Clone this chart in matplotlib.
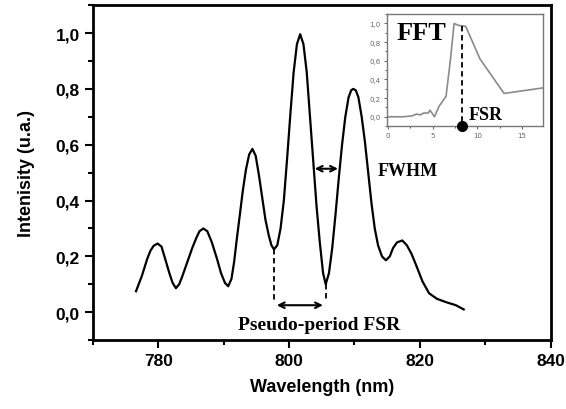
import numpy as np
import matplotlib.pyplot as plt
from matplotlib.ticker import MultipleLocator, FuncFormatter

# Spectrum
wavelength = [776.6, 777.5, 778.3, 778.8, 779.3, 779.9, 780.5, 781.2, 781.7, 782.2,
              782.7, 783.2, 783.7, 784.3, 785.2, 785.8, 786.3, 786.9, 787.5, 788.2,
              789.0, 789.6, 790.2, 790.7, 791.2, 791.6, 792.0, 792.4, 792.9, 793.4,
              793.9, 794.4, 794.9, 795.4, 795.9, 796.4, 796.9, 797.3, 797.7, 798.2,
              798.7, 799.2, 799.7, 800.2, 800.7, 801.2, 801.7, 802.2, 802.7, 803.2,
              803.7, 804.2, 804.7, 805.2, 805.6, 806.1, 806.6, 807.1, 807.6, 808.1,
              808.6, 809.1, 809.5, 809.8, 810.2, 810.6, 811.1, 811.6, 812.1, 812.6,
              813.1, 813.6, 814.2, 814.8, 815.4, 815.9, 816.5, 817.3, 818.0, 818.7,
              819.4, 820.4, 821.4, 822.6, 824.0, 825.5, 826.7]
intensity = [0.075, 0.13, 0.19, 0.22, 0.238, 0.246, 0.235, 0.18, 0.14, 0.105,
             0.086, 0.10, 0.13, 0.17, 0.23, 0.265, 0.29, 0.30, 0.29, 0.25,
             0.19, 0.14, 0.105, 0.093, 0.12, 0.18, 0.26, 0.335, 0.43, 0.51,
             0.565, 0.585, 0.56, 0.49, 0.41, 0.33, 0.275, 0.24, 0.225, 0.24,
             0.30, 0.40, 0.55, 0.71, 0.86, 0.96, 0.996, 0.96, 0.86, 0.70,
             0.54, 0.38, 0.25, 0.14, 0.10, 0.14, 0.23, 0.35, 0.48, 0.60,
             0.70, 0.77, 0.795, 0.80, 0.795, 0.77, 0.70, 0.61, 0.50, 0.39,
             0.30, 0.24, 0.20, 0.186, 0.20, 0.23, 0.25, 0.257, 0.24, 0.21,
             0.17, 0.11, 0.068, 0.048, 0.036, 0.025, 0.01]

# FFT inset
fft_x = [0.0, 1.7, 2.7, 3.2, 3.6, 4.0, 4.5, 4.7, 5.2, 5.7, 6.5, 7.0, 7.4, 7.9, 8.7, 10.3, 13.0, 17.4]
fft_y = [0.0, 0.0, 0.01, 0.03, 0.02, 0.04, 0.04, 0.07, 0.0, 0.11, 0.22, 0.62, 1.0, 0.98, 0.97, 0.62, 0.25, 0.31]
fsr_fft = 8.3

# annotation marks
fsr_minima = [797.7, 805.6]
fsr_minima_y = [0.225, 0.10]
fwhm_span = [803.5, 807.9]
fwhm_level = 0.514

comma = FuncFormatter(lambda v, p: f"{v:.1f}".replace(".", ","))
serif = "Liberation Serif"

fig = plt.figure(figsize=(5.66, 4.10), dpi=100)
ax = fig.add_axes([0.164, 0.168, 0.809, 0.817])

ax.plot(wavelength, intensity, color="black", lw=1.6)
ax.set_xlim(770, 840)
ax.set_ylim(-0.1, 1.1)
ax.xaxis.set_major_locator(MultipleLocator(20))
ax.xaxis.set_minor_locator(MultipleLocator(10))
ax.yaxis.set_major_locator(MultipleLocator(0.2))
ax.yaxis.set_minor_locator(MultipleLocator(0.1))
ax.yaxis.set_major_formatter(comma)
ax.tick_params(which="major", direction="out", length=6, width=1.5, labelsize=12.5)
ax.tick_params(which="minor", direction="out", length=3.5, width=1.5)
for lab in ax.get_xticklabels() + ax.get_yticklabels():
    lab.set_fontfamily("Liberation Sans")
    lab.set_fontweight("bold")
for s in ax.spines.values():
    s.set_linewidth(2)
ax.set_xlabel("Wavelength (nm)", family="Liberation Sans", weight="bold", fontsize=13, labelpad=7)
ax.set_ylabel("Intenisity (u.a.)", family="Liberation Sans", weight="bold", fontsize=13, labelpad=15)

# pseudo-period FSR
for xm, ym in zip(fsr_minima, fsr_minima_y):
    ax.plot([xm, xm], [ym, 0.04], color="black", lw=1.3, ls=(0, (3, 2)))
ax.annotate("", xy=(fsr_minima[0], 0.025), xytext=(fsr_minima[1], 0.025),
            arrowprops=dict(arrowstyle="<->", color="black", lw=1.5))
ax.text(804.6, -0.043, "Pseudo-period FSR", family=serif, weight="bold", fontsize=14,
        ha="center", va="center")

# FWHM
ax.annotate("", xy=(fwhm_span[0], fwhm_level), xytext=(fwhm_span[1], fwhm_level),
            arrowprops=dict(arrowstyle="<->", color="black", lw=1.5))
ax.text(818.1, 0.507, "FWHM", family=serif, weight="bold", fontsize=13, ha="center", va="center")

# inset
ins = fig.add_axes([0.684, 0.690, 0.276, 0.273])
ins.plot(fft_x, fft_y, color="#8a8a8a", lw=1.2)
ins.set_xlim(-0.1, 17.4)
ins.set_ylim(-0.1, 1.1)
ins.xaxis.set_major_locator(MultipleLocator(5))
ins.xaxis.set_minor_locator(MultipleLocator(2.5))
ins.yaxis.set_major_locator(MultipleLocator(0.2))
ins.yaxis.set_minor_locator(MultipleLocator(0.1))
ins.yaxis.set_major_formatter(comma)
ins.tick_params(which="major", direction="out", length=2.5, width=0.8, labelsize=5,
                colors="#666666", pad=2)
ins.tick_params(which="minor", direction="out", length=1.5, width=0.8, colors="#666666")
for s in ins.spines.values():
    s.set_color("#777777")
    s.set_linewidth(1)
ins.plot([fsr_fft, fsr_fft], [0.97, -0.1], color="black", lw=1.3, ls=(0, (3, 2)))
ins.plot([fsr_fft], [-0.1], "o", color="black", ms=7, clip_on=False, zorder=5)
ins.text(1.0, 0.90, "FFT", family=serif, weight="bold", fontsize=19, ha="left", va="center")
ins.text(9.0, 0.02, "FSR", family=serif, weight="bold", fontsize=13, ha="left", va="center")

fig.savefig("out.png", dpi=100)
